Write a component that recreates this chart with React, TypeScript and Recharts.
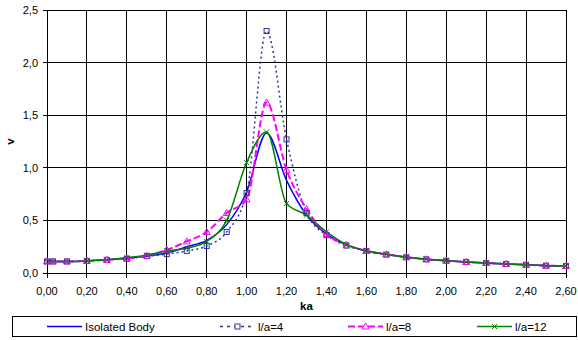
import React from 'react';
import { LineChart, Line, XAxis, YAxis, CartesianGrid } from 'recharts';

const KA = [0, 0.03, 0.1, 0.2, 0.3, 0.4, 0.5, 0.6, 0.7, 0.8, 0.9, 1.0, 1.1, 1.2, 1.3, 1.4, 1.5, 1.6, 1.7, 1.8, 1.9, 2.0, 2.1, 2.2, 2.3, 2.4, 2.5, 2.6];
const ISOLATED = [0.11, 0.11, 0.11, 0.115, 0.125, 0.14, 0.16, 0.19, 0.25, 0.31, 0.46, 0.77, 1.33, 0.88, 0.55, 0.37, 0.27, 0.21, 0.178, 0.15, 0.13, 0.117, 0.105, 0.095, 0.086, 0.078, 0.07, 0.067];
const LA4 = [0.11, 0.11, 0.11, 0.115, 0.125, 0.135, 0.16, 0.18, 0.21, 0.257, 0.39, 0.76, 2.3, 1.27, 0.57, 0.36, 0.26, 0.21, 0.175, 0.15, 0.13, 0.117, 0.105, 0.095, 0.086, 0.078, 0.07, 0.067];
const LA8 = [0.11, 0.11, 0.11, 0.115, 0.125, 0.14, 0.165, 0.22, 0.3, 0.39, 0.57, 0.7, 1.62, 0.98, 0.61, 0.37, 0.27, 0.21, 0.178, 0.15, 0.13, 0.117, 0.105, 0.095, 0.086, 0.078, 0.07, 0.067];
const LA12 = [0.11, 0.11, 0.11, 0.115, 0.125, 0.145, 0.17, 0.21, 0.235, 0.3, 0.5, 1.05, 1.34, 0.66, 0.55, 0.39, 0.27, 0.21, 0.178, 0.15, 0.13, 0.117, 0.105, 0.095, 0.086, 0.078, 0.07, 0.067];

const X_TICKS = [0, 0.2, 0.4, 0.6, 0.8, 1.0, 1.2, 1.4, 1.6, 1.8, 2.0, 2.2, 2.4, 2.6];
const Y_TICKS = [0, 0.5, 1.0, 1.5, 2.0, 2.5];

const SERIES_NAMES = ['Isolated Body', 'l/a=4', 'l/a=8', 'l/a=12'];

const data = KA.map((ka, i) => ({ ka, iso: ISOLATED[i], la4: LA4[i], la8: LA8[i], la12: LA12[i] }));

const FONT = '"Liberation Sans", Arial, sans-serif';
const BLUE = '#0000FF';
const NAVY = '#333399';
const MAGENTA = '#FF00FF';
const GREEN = '#008000';

const fmt2 = (v: number) => v.toFixed(2).replace('.', ',');
const fmt1 = (v: number) => v.toFixed(1).replace('.', ',');

const SquareDot = (props: any) => {
  const { cx, cy, index } = props;
  if (cx == null || cy == null) return <g key={`sq-${index}`} />;
  return <rect key={`sq-${index}`} x={cx - 2.5} y={cy - 2.5} width={5} height={5} fill="none" stroke={NAVY} strokeWidth={1} />;
};

const TriDot = (props: any) => {
  const { cx, cy, index } = props;
  if (cx == null || cy == null) return <g key={`tr-${index}`} />;
  const d = `M${cx},${cy - 3.5} L${cx + 3.5},${cy + 2.5} L${cx - 3.5},${cy + 2.5} Z`;
  return <path key={`tr-${index}`} d={d} fill="none" stroke={MAGENTA} strokeWidth={1} />;
};

const XDot = (props: any) => {
  const { cx, cy, index } = props;
  if (cx == null || cy == null) return <g key={`x-${index}`} />;
  const s = 2.5;
  return (
    <path key={`x-${index}`} d={`M${cx - s},${cy - s} L${cx + s},${cy + s} M${cx - s},${cy + s} L${cx + s},${cy - s}`} stroke={GREEN} strokeWidth={1} fill="none" />
  );
};

const LegendItem = ({ left, name, color, width, dash, marker }: any) => (
  <div style={{ position: 'absolute', left, top: 0, height: 19, display: 'flex', alignItems: 'center' }}>
    <svg width={36} height={19} style={{ display: 'block' }}>
      <line x1={0} y1={9.5} x2={35} y2={9.5} stroke={color} strokeWidth={width} strokeDasharray={dash} />
      {marker === 'square' && <rect x={15} y={7} width={5} height={5} fill="#fff" stroke={color} strokeWidth={1} />}
      {marker === 'tri' && <path d="M17.5,6 L21,12 L14,12 Z" fill="#fff" stroke={color} strokeWidth={1} />}
      {marker === 'x' && <path d="M15,7 L20,12 M15,12 L20,7" stroke={color} strokeWidth={1} />}
    </svg>
    <span style={{ fontSize: 11.5, marginLeft: 2, color: '#000', fontFamily: FONT }}>{name}</span>
  </div>
);

export default function App() {
  return (
    <div style={{ position: 'absolute', left: 0, top: 0, width: 578, height: 340, background: '#fff', fontFamily: FONT }}>
      <style>{`.recharts-cartesian-grid line, .recharts-cartesian-axis-line, .recharts-cartesian-axis-tick-line { shape-rendering: crispEdges; }`}</style>
      <LineChart width={578} height={340} data={data} margin={{ top: 10, right: 12, left: 7, bottom: 27 }}>
        <CartesianGrid stroke="#000" strokeWidth={1} />
        <XAxis
          dataKey="ka"
          type="number"
          domain={[0, 2.6]}
          ticks={X_TICKS}
          interval={0}
          tickFormatter={fmt2}
          tickSize={5}
          tickMargin={9}
          height={40}
          axisLine={{ stroke: '#000' }}
          tickLine={{ stroke: '#000' }}
          tick={{ fill: '#000', fontSize: 11, fontFamily: FONT }}
          label={{ value: 'ka', position: 'insideBottom', offset: 3, fill: '#000', fontSize: 11.5, fontWeight: 'bold', fontFamily: FONT }}
        />
        <YAxis
          type="number"
          domain={[0, 2.5]}
          ticks={Y_TICKS}
          interval={0}
          tickFormatter={fmt1}
          width={40}
          tickSize={4}
          tickMargin={5}
          axisLine={{ stroke: '#000' }}
          tickLine={{ stroke: '#000' }}
          tick={{ fill: '#000', fontSize: 11, fontFamily: FONT }}
          label={{
            content: () => (
              <text x={13.5} y={141.5} transform="rotate(-90 13.5 141.5)" textAnchor="middle" fontSize={11.5} fontWeight="bold" fontFamily={FONT} fill="#000">v</text>
            ),
          }}
        />
        <Line type="monotone" dataKey="iso" name={SERIES_NAMES[0]} stroke={BLUE} strokeWidth={1.5} dot={false} isAnimationActive={false} />
        <Line type="monotone" dataKey="la4" name={SERIES_NAMES[1]} stroke={NAVY} strokeWidth={1.5} strokeDasharray="2 3" dot={SquareDot} isAnimationActive={false} />
        <Line type="monotone" dataKey="la8" name={SERIES_NAMES[2]} stroke={MAGENTA} strokeWidth={2} strokeDasharray="7 3" dot={TriDot} isAnimationActive={false} />
        <Line type="monotone" dataKey="la12" name={SERIES_NAMES[3]} stroke={GREEN} strokeWidth={1.5} dot={XDot} isAnimationActive={false} />
      </LineChart>
      <div style={{ position: 'absolute', left: 12, top: 316, width: 563, height: 19, border: '1px solid #000', background: '#fff' }}>
        <LegendItem left={34} name={SERIES_NAMES[0]} color={BLUE} width={1.5} />
        <LegendItem left={207} name={SERIES_NAMES[1]} color={NAVY} width={1.5} dash="3 4" marker="square" />
        <LegendItem left={335} name={SERIES_NAMES[2]} color={MAGENTA} width={2} dash="7 3" marker="tri" />
        <LegendItem left={464} name={SERIES_NAMES[3]} color={GREEN} width={1.5} marker="x" />
      </div>
    </div>
  );
}
